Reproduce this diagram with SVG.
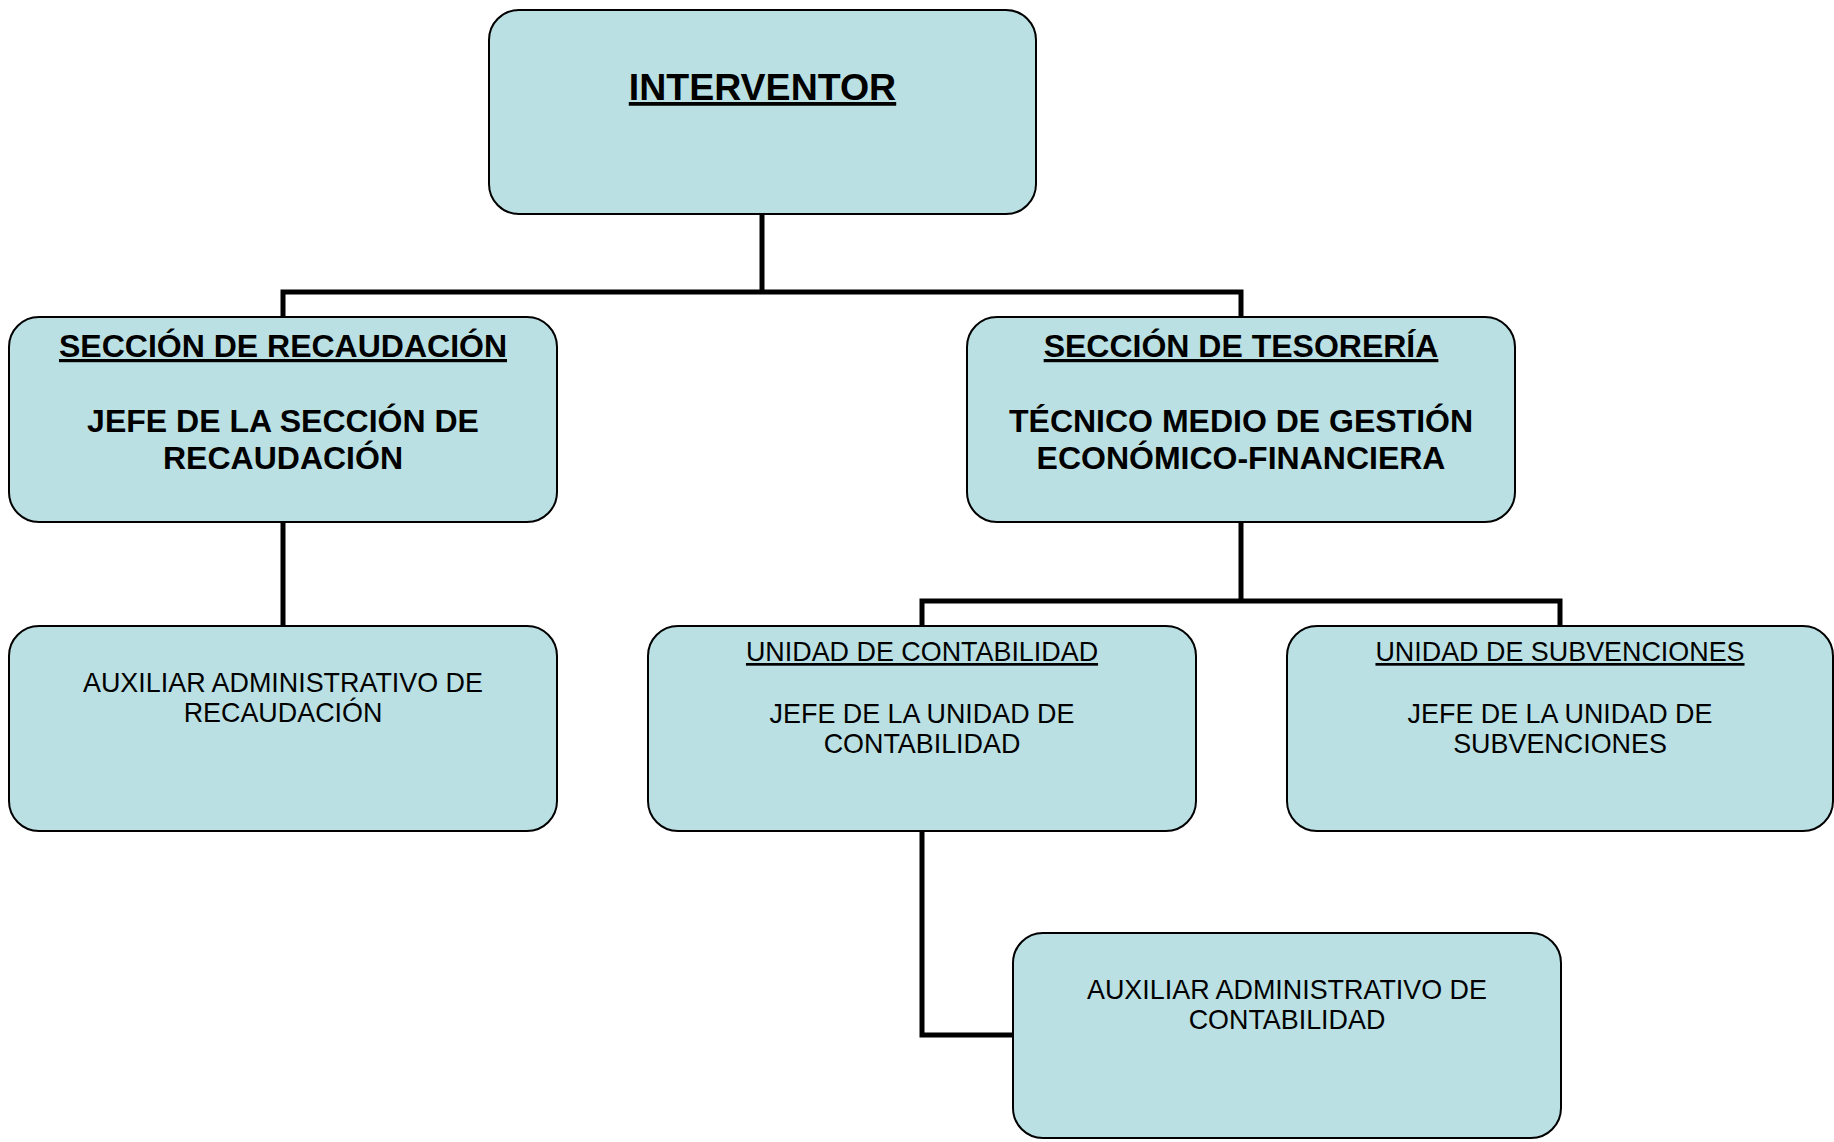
<svg xmlns="http://www.w3.org/2000/svg" width="1834" height="1142" viewBox="0 0 1834 1142">
<style>
.box{fill:#bae0e3;stroke:#000;stroke-width:2}
.conn{fill:none;stroke:#000;stroke-width:5;stroke-linejoin:miter}
text{font-family:"Liberation Sans",Arial,sans-serif;fill:#000;text-anchor:middle}
.b{font-weight:bold;font-size:32px}
.t{font-weight:bold;font-size:37.5px}
.r{font-size:26.9px}
.u{text-decoration:underline}
</style>
<rect width="1834" height="1142" fill="#fff"/>
<g id="connectors">
<path class="conn" d="M762 214 V292"/>
<path class="conn" d="M283 317 V292 H1241 V317"/>
<path class="conn" d="M283 522 V626"/>
<path class="conn" d="M1241 522 V601"/>
<path class="conn" d="M922 626 V601 H1560 V626"/>
<path class="conn" d="M922 831 V1035 H1013"/>
</g>
<g id="interventor">
<rect class="box" x="489" y="10" width="547" height="204" rx="30"/>
<text class="t u" x="762.5" y="100">INTERVENTOR</text>
</g>
<g id="seccion-recaudacion">
<rect class="box" x="9" y="317" width="548" height="205" rx="30"/>
<text class="b u" x="283" y="357">SECCIÓN DE RECAUDACIÓN</text>
<text class="b" x="283" y="432">JEFE DE LA SECCIÓN DE</text>
<text class="b" x="283" y="469">RECAUDACIÓN</text>
</g>
<g id="seccion-tesoreria">
<rect class="box" x="967" y="317" width="548" height="205" rx="30"/>
<text class="b u" x="1241" y="357">SECCIÓN DE TESORERÍA</text>
<text class="b" x="1241" y="432">TÉCNICO MEDIO DE GESTIÓN</text>
<text class="b" x="1241" y="469">ECONÓMICO-FINANCIERA</text>
</g>
<g id="auxiliar-recaudacion">
<rect class="box" x="9" y="626" width="548" height="205" rx="30"/>
<text class="r" x="283" y="692">AUXILIAR ADMINISTRATIVO DE</text>
<text class="r" x="283" y="722">RECAUDACIÓN</text>
</g>
<g id="unidad-contabilidad">
<rect class="box" x="648" y="626" width="548" height="205" rx="30"/>
<text class="r u" x="922" y="661">UNIDAD DE CONTABILIDAD</text>
<text class="r" x="922" y="723">JEFE DE LA UNIDAD DE</text>
<text class="r" x="922" y="753">CONTABILIDAD</text>
</g>
<g id="unidad-subvenciones">
<rect class="box" x="1287" y="626" width="546" height="205" rx="30"/>
<text class="r u" x="1560" y="661">UNIDAD DE SUBVENCIONES</text>
<text class="r" x="1560" y="723">JEFE DE LA UNIDAD DE</text>
<text class="r" x="1560" y="753">SUBVENCIONES</text>
</g>
<g id="auxiliar-contabilidad">
<rect class="box" x="1013" y="933" width="548" height="205" rx="30"/>
<text class="r" x="1287" y="999">AUXILIAR ADMINISTRATIVO DE</text>
<text class="r" x="1287" y="1029">CONTABILIDAD</text>
</g>
</svg>
